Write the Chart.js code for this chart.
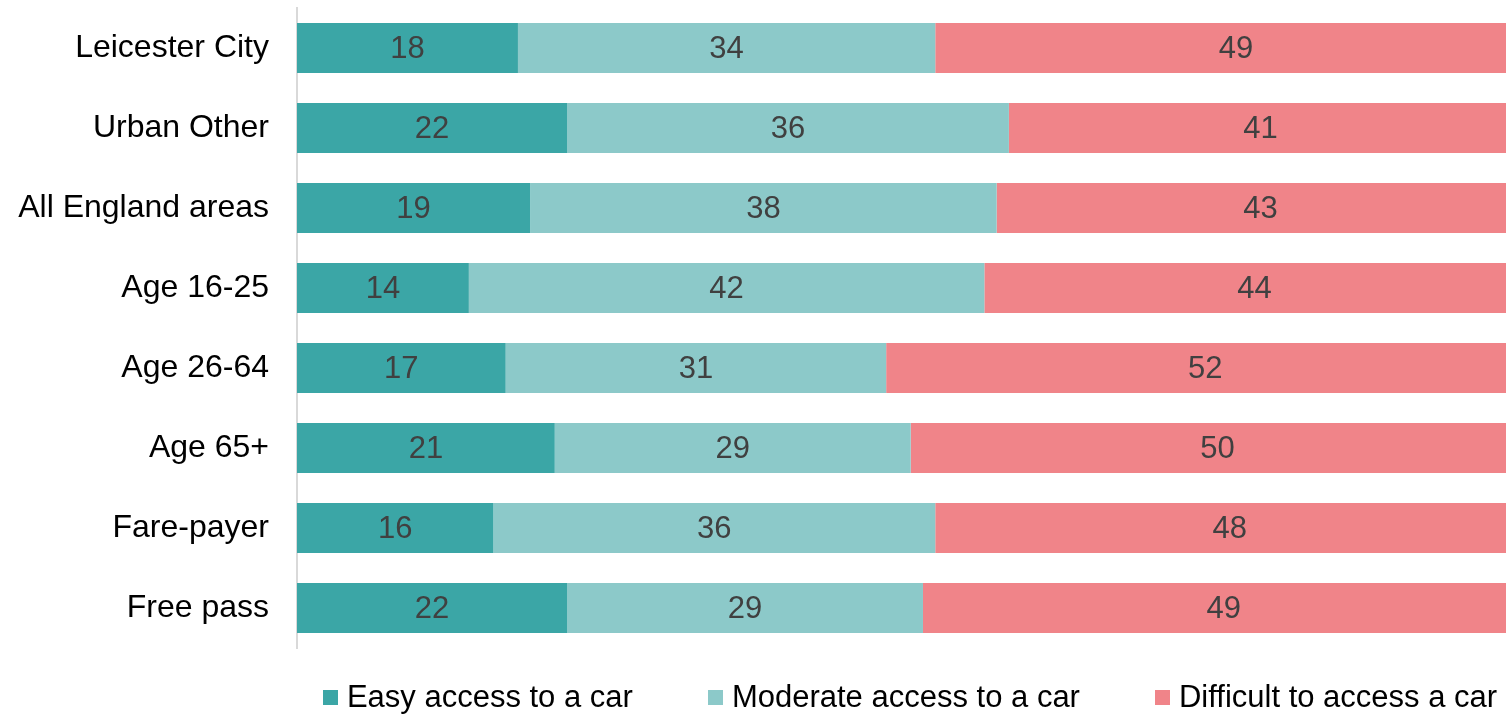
<!DOCTYPE html>
<html>
<head>
<meta charset="utf-8">
<script src="https://cdn.jsdelivr.net/npm/chart.js@4.4.1/dist/chart.umd.min.js"></script>
<style>
  html, body { margin: 0; padding: 0; background: #fff; overflow: hidden; }
  #wrap { position: relative; width: 1506px; height: 714px; }
  #legend { position: absolute; left: 0; width: 1820px; top: 680px; height: 34px;
            display: flex; justify-content: center; align-items: center; gap: 75px;
            font-family: "Liberation Sans", Arial, sans-serif; font-size: 31px; color: #000; white-space: nowrap; }
  #legend .item { display: flex; align-items: center; }
  #legend .sw { width: 15px; height: 15px; margin-right: 9px; display: inline-block; }
</style>
</head>
<body>
<div id="wrap">
  <canvas id="c" width="1506" height="714"></canvas>
  <div id="legend"></div>
</div>
<script>
const categories = ["Leicester City", "Urban Other", "All England areas", "Age 16-25", "Age 26-64", "Age 65+", "Fare-payer", "Free pass"];
const seriesNames = ["Easy access to a car", "Moderate access to a car", "Difficult to access a car"];
const easy = [18, 22, 19, 14, 17, 21, 16, 22];
const moderate = [34, 36, 38, 42, 31, 29, 36, 29];
const difficult = [49, 41, 43, 44, 52, 50, 48, 49];
const colors = ["#3BA6A6", "#8CC9C9", "#F08489"];

const FONT = '"Liberation Sans", Arial, sans-serif';

const dataLabels = {
  id: 'dataLabels',
  afterDatasetsDraw(chart) {
    const ctx = chart.ctx;
    ctx.save();
    ctx.font = '31px ' + FONT;
    ctx.fillStyle = '#404040';
    ctx.textAlign = 'center';
    ctx.textBaseline = 'middle';
    chart.data.datasets.forEach((ds, di) => {
      const meta = chart.getDatasetMeta(di);
      meta.data.forEach((el, i) => {
        const cx = (el.x + el.base) / 2;
        ctx.fillText(String(ds.data[i]), cx, el.y + 1);
      });
    });
    ctx.restore();
  }
};

const chart = new Chart(document.getElementById('c'), {
  type: 'bar',
  data: {
    labels: categories,
    datasets: [
      { label: seriesNames[0], data: easy, backgroundColor: colors[0] },
      { label: seriesNames[1], data: moderate, backgroundColor: colors[1] },
      { label: seriesNames[2], data: difficult, backgroundColor: colors[2] }
    ]
  },
  options: {
    indexAxis: 'y',
    responsive: false,
    animation: false,
    maintainAspectRatio: false,
    layout: { padding: { top: 8, bottom: 66, left: 0, right: 0 } },
    datasets: { bar: { categoryPercentage: 1, barPercentage: 0.625, borderWidth: 0 } },
    scales: {
      x: {
        stacked: true, min: 0, max: 98.5, display: false
      },
      y: {
        stacked: true,
        grid: { display: false, drawTicks: false },
        border: { display: true, color: '#D9D9D9', width: 2 },
        ticks: { color: '#000', font: { family: FONT, size: 32 }, padding: 28 },
        afterFit(scale) { scale.width = 297; scale.paddingTop = 0; scale.paddingBottom = 0; }
      }
    },
    plugins: { legend: { display: false }, tooltip: { enabled: false } }
  },
  plugins: [dataLabels]
});

const leg = document.getElementById('legend');
seriesNames.forEach((n, i) => {
  const it = document.createElement('div');
  it.className = 'item';
  const sw = document.createElement('span');
  sw.className = 'sw';
  sw.style.background = colors[i];
  const t = document.createElement('span');
  t.textContent = n;
  it.appendChild(sw); it.appendChild(t);
  leg.appendChild(it);
});
</script>
</body>
</html>
